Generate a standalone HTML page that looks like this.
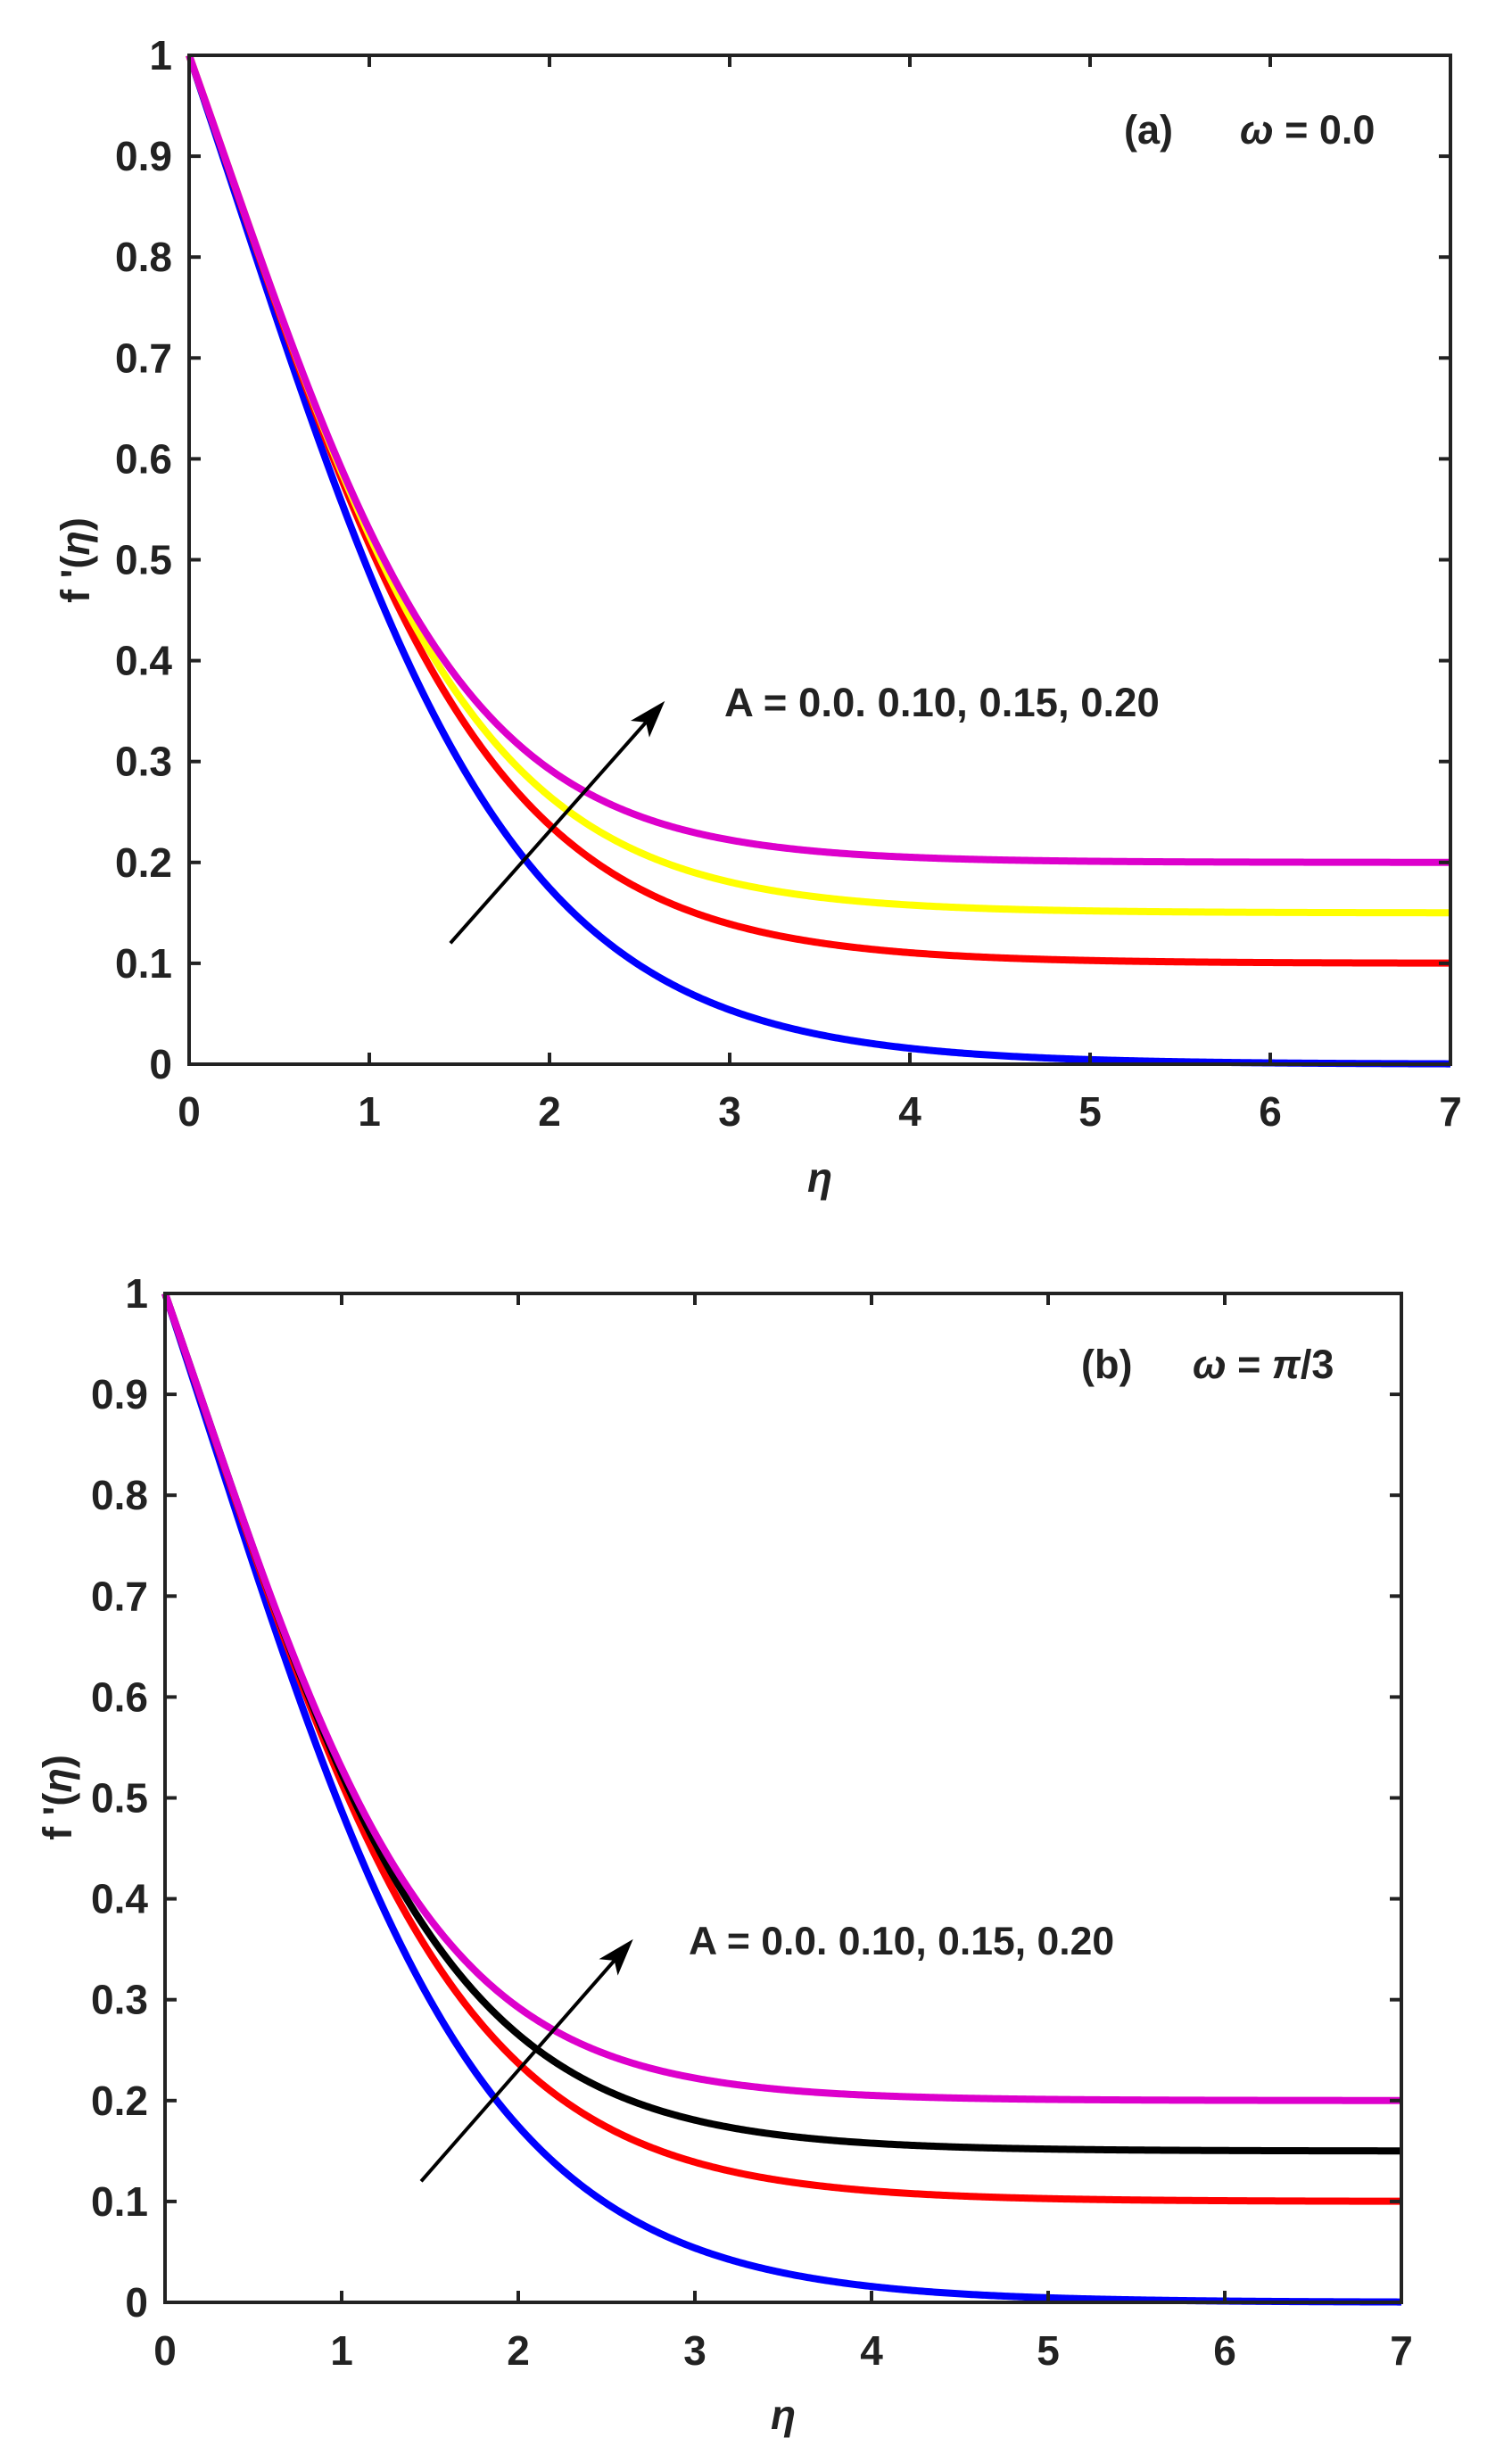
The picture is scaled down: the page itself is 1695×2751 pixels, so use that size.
<!DOCTYPE html>
<html><head><meta charset="utf-8"><style>
html,body{margin:0;padding:0;background:#fff;}
svg{display:block;}
text{font-family:"Liberation Sans",Arial,sans-serif;font-weight:bold;fill:#222;}
</style></head><body>
<svg id="s" width="1695" height="2751" viewBox="0 0 1695 2751" xmlns="http://www.w3.org/2000/svg">
<g id="pa"></g>
<g id="pb"></g>
<text x="1260" y="161" font-size="45">(a)</text>
<text x="1390" y="161" font-size="45"><tspan font-style="italic">ω</tspan> = 0.0</text>
<text x="812" y="803" font-size="45.5">A = 0.0. 0.10, 0.15, 0.20</text>
<text transform="translate(100,628) rotate(-90)" text-anchor="middle" font-size="45">f '(<tspan font-style="italic">η</tspan>)</text>
<text x="919" y="1336" text-anchor="middle" font-size="46" font-style="italic">η</text>
<text x="1212" y="1545" font-size="45">(b)</text>
<text x="1337" y="1545" font-size="45"><tspan font-style="italic">ω</tspan> = <tspan font-style="italic">π</tspan>/3</text>
<text x="772" y="2191" font-size="44.5">A = 0.0. 0.10, 0.15, 0.20</text>
<text transform="translate(80,2015) rotate(-90)" text-anchor="middle" font-size="45">f '(<tspan font-style="italic">η</tspan>)</text>
<text x="878" y="2723" text-anchor="middle" font-size="46" font-style="italic">η</text>
</svg>
<script>
var NS="http://www.w3.org/2000/svg";
var K=1.25,B=1.364;
function g(x){return (1+B)/(Math.exp(K*x)+B);}
function el(nm,a,p){var e=document.createElementNS(NS,nm);for(var k in a)e.setAttribute(k,a[k]);p.appendChild(e);return e;}
function panel(id,x0,x1,y0,y1,series,tickBase,arrow){
 var p=document.getElementById(id);var sx=(x1-x0)/7,sy=(y1-y0);
 function X(v){return x0+v*sx}function Y(v){return y1-v*sy}
 series.forEach(function(s){var d="";for(var i=0;i<=700;i++){var e=i*0.01;var v=s.A+(1-s.A)*g(e*s.k);d+=(i?"L":"M")+X(e).toFixed(2)+" "+Y(v).toFixed(2);}
  el("path",{d:d,fill:"none",stroke:s.c,"stroke-width":8,"stroke-linejoin":"round"},p);});
 el("rect",{x:x0,y:y0,width:x1-x0,height:y1-y0,fill:"none",stroke:"#222","stroke-width":4},p);
 for(var i=0;i<=7;i++){var x=X(i);el("line",{x1:x,y1:y1,x2:x,y2:y1-13,stroke:"#222","stroke-width":4},p);el("line",{x1:x,y1:y0,x2:x,y2:y0+13,stroke:"#222","stroke-width":4},p);
  var t=el("text",{x:x,y:tickBase,"text-anchor":"middle","font-size":46},p);t.textContent=i;}
 for(var j=0;j<=10;j++){var y=Y(j/10);el("line",{x1:x0,y1:y,x2:x0+13,y2:y,stroke:"#222","stroke-width":4},p);el("line",{x1:x1,y1:y,x2:x1-13,y2:y,stroke:"#222","stroke-width":4},p);
  var t=el("text",{x:x0-19,y:y+16,"text-anchor":"end","font-size":46},p);t.textContent=j==0?"0":j==10?"1":"0."+j;}
 var ax=X(arrow[0]),ay=Y(arrow[1]),bx=X(arrow[2]),by=Y(arrow[3]);
 var dx=bx-ax,dy=by-ay,l=Math.hypot(dx,dy),ux=dx/l,uy=dy/l;
 var hl=42,hw=14,cx=bx-ux*hl,cy=by-uy*hl;
 el("line",{x1:ax,y1:ay,x2:cx+ux*10,y2:cy+uy*10,stroke:"#000","stroke-width":4},p);
 el("polygon",{points:bx+","+by+" "+(cx-uy*hw)+","+(cy+ux*hw)+" "+(cx+ux*10)+","+(cy+uy*10)+" "+(cx+uy*hw)+","+(cy-ux*hw),fill:"#000"},p);
}
panel("pa",212,1626,62,1193,[{A:0,k:1,c:"#0000ff"},{A:0.1,k:1.06,c:"#ff0000"},{A:0.15,k:1.11,c:"#ffff00"},{A:0.2,k:1.18,c:"#dd00cc"}],1262,[1.45,0.12,2.64,0.36]);
panel("pb",185,1571,1450,2581,[{A:0,k:1,c:"#0000ff"},{A:0.1,k:1.06,c:"#ff0000"},{A:0.15,k:1.11,c:"#000000"},{A:0.2,k:1.18,c:"#dd00cc"}],2651,[1.45,0.12,2.65,0.36]);
</script>
</body></html>
